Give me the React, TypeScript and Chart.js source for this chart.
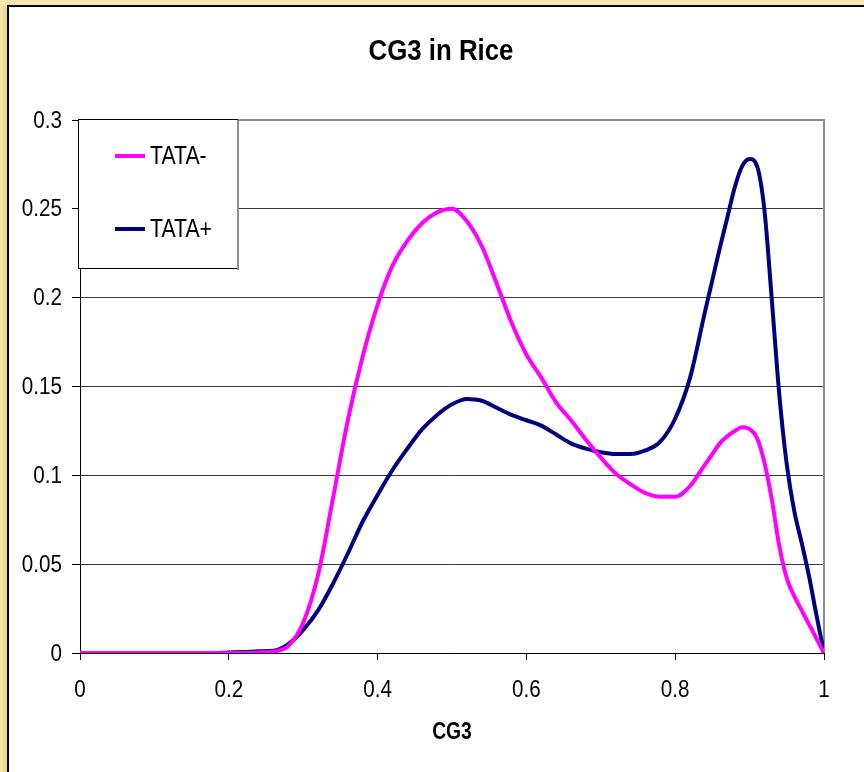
import React, { useEffect, useRef } from "react";
import { Chart, registerables } from "chart.js";

Chart.register(...registerables);

const chartTitle = "CG3 in Rice";
const xAxisTitle = "CG3";
const seriesNames = ["TATA-", "TATA+"];
const seriesColors = ["#FF00FF", "#000080"];

const xValues = [
  0, 0.02, 0.04, 0.06, 0.08, 0.1, 0.12, 0.14, 0.16, 0.18, 0.2, 0.22, 0.24, 0.26, 0.28, 0.3,
  0.32, 0.34, 0.36, 0.38, 0.4, 0.42, 0.44, 0.46, 0.48, 0.5, 0.52, 0.54, 0.56, 0.58, 0.6,
  0.62, 0.64, 0.66, 0.68, 0.7, 0.72, 0.74, 0.76, 0.78, 0.8, 0.82, 0.84, 0.85, 0.86, 0.87,
  0.88, 0.89, 0.9, 0.91, 0.92, 0.93, 0.94, 0.95, 0.96, 0.97, 0.98, 0.99, 1,
];

const tataMinus = [
  0, 0, 0, 0, 0, 0, 0, 0, 0, 0, 0, 0, 0.0003, 0.0008, 0.004, 0.017,
  0.044, 0.087, 0.131, 0.167, 0.196, 0.218, 0.232, 0.242, 0.248, 0.25, 0.243, 0.229, 0.208, 0.186, 0.168,
  0.155, 0.141, 0.131, 0.12, 0.11, 0.101, 0.095, 0.09, 0.088, 0.088, 0.094, 0.106, 0.112, 0.118, 0.122,
  0.125, 0.127, 0.126, 0.121, 0.107, 0.086, 0.06, 0.042, 0.032, 0.024, 0.016, 0.008, 0,
];

const tataPlus = [
  0, 0, 0, 0, 0, 0, 0, 0, 0, 0, 0.0003, 0.0005, 0.001, 0.0012, 0.005, 0.013,
  0.024, 0.039, 0.056, 0.074, 0.089, 0.103, 0.115, 0.126, 0.134, 0.14, 0.143, 0.142, 0.138, 0.134, 0.131,
  0.128, 0.123, 0.118, 0.115, 0.113, 0.112, 0.112, 0.114, 0.119, 0.132, 0.155, 0.192, 0.21, 0.228, 0.245,
  0.262, 0.274, 0.278, 0.274, 0.249, 0.198, 0.145, 0.106, 0.08, 0.062, 0.043, 0.021, 0,
];

const FONT = "'Liberation Sans', Arial, sans-serif";

const fmt = (v: number) => String(Math.round(v * 1000) / 1000);

function narrowText(
  ctx: CanvasRenderingContext2D,
  text: string,
  x: number,
  y: number,
  font: string,
  align: CanvasTextAlign,
  sx: number
) {
  ctx.save();
  ctx.font = font;
  ctx.fillStyle = "#000000";
  ctx.textBaseline = "middle";
  ctx.textAlign = align;
  ctx.translate(x, y);
  ctx.scale(sx, 1);
  ctx.fillText(text, 0, 0);
  ctx.restore();
}

const backgroundPlugin = {
  id: "frameBg",
  beforeDraw(chart: any) {
    const ctx = chart.ctx;
    const W = chart.width;
    const H = chart.height;
    ctx.save();
    const g = ctx.createLinearGradient(0, 0, 12, 0);
    g.addColorStop(0, "#f6e8b8");
    g.addColorStop(0.5, "#ecd48a");
    g.addColorStop(1, "#f3e0a2");
    ctx.fillStyle = g;
    ctx.fillRect(0, 0, W, H);
    ctx.fillStyle = "#f5e6b4";
    ctx.fillRect(0, 0, W, 6);
    ctx.fillStyle = "#ffffff";
    ctx.fillRect(8, 6, W - 8, H - 6);
    ctx.fillStyle = "#000000";
    ctx.fillRect(7, 5, W - 7, 2);
    ctx.fillRect(7, 5, 2, H - 5);
    ctx.restore();
  },
  beforeDatasetsDraw(chart: any) {
    const { ctx, chartArea } = chart;
    ctx.save();
    ctx.strokeStyle = "#8c8c8c";
    ctx.lineWidth = 2;
    ctx.beginPath();
    ctx.moveTo(chartArea.left, chartArea.top);
    ctx.lineTo(chartArea.right, chartArea.top);
    ctx.lineTo(chartArea.right, chartArea.bottom);
    ctx.stroke();
    ctx.restore();
  },
};

const textPlugin = {
  id: "narrowTexts",
  afterDraw(chart: any) {
    const ctx = chart.ctx;
    const xs = chart.scales.x;
    const ys = chart.scales.y;
    // title
    narrowText(ctx, chartTitle, 441, 52, `bold 29px ${FONT}`, "center", 0.89);
    // y tick labels
    ys.ticks.forEach((t: any) => {
      const py = ys.getPixelForValue(t.value);
      narrowText(ctx, fmt(t.value), 62, py + 1, `24px ${FONT}`, "right", 0.86);
    });
    // x tick labels
    xs.ticks.forEach((t: any) => {
      const px = xs.getPixelForValue(t.value);
      narrowText(ctx, fmt(t.value), px, 690, `24px ${FONT}`, "center", 0.86);
    });
    // x axis title
    const cx = (chart.chartArea.left + chart.chartArea.right) / 2;
    narrowText(ctx, xAxisTitle, cx, 733, `bold 23px ${FONT}`, "center", 0.84);

    // legend box
    const left = 78;
    const top = 119;
    const w = 159;
    const h = 149;
    ctx.save();
    ctx.fillStyle = "#ffffff";
    ctx.fillRect(left, top, w, h);
    ctx.strokeStyle = "#000000";
    ctx.lineWidth = 1;
    ctx.strokeRect(left + 0.5, top + 0.5, w, h);
    ctx.fillStyle = "#8c8c8c";
    ctx.fillRect(left + w, top + 1, 2, h + 1);
    ctx.restore();
    const rows = [156, 229];
    chart.data.datasets.forEach((ds: any, i: number) => {
      const y = rows[i];
      ctx.save();
      ctx.strokeStyle = ds.borderColor;
      ctx.lineWidth = 4;
      ctx.beginPath();
      ctx.moveTo(115, y);
      ctx.lineTo(145, y);
      ctx.stroke();
      ctx.restore();
      narrowText(ctx, ds.label, 150, y + 1, `25px ${FONT}`, "left", 0.85);
    });
  },
};

export default function App() {
  const ref = useRef<HTMLCanvasElement | null>(null);

  useEffect(() => {
    if (!ref.current) return;
    const makeData = (ys: number[]) => xValues.map((x, i) => ({ x, y: ys[i] }));
    const chart = new Chart(ref.current, {
      type: "line",
      data: {
        datasets: [
          {
            label: seriesNames[0],
            data: makeData(tataMinus),
            borderColor: seriesColors[0],
            backgroundColor: seriesColors[0],
            borderWidth: 4,
            pointRadius: 0,
            cubicInterpolationMode: "monotone",
            fill: false,
          },
          {
            label: seriesNames[1],
            data: makeData(tataPlus),
            borderColor: seriesColors[1],
            backgroundColor: seriesColors[1],
            borderWidth: 4,
            pointRadius: 0,
            cubicInterpolationMode: "monotone",
            fill: false,
          },
        ],
      },
      options: {
        responsive: false,
        animation: false,
        devicePixelRatio: 1,
        layout: { padding: { left: 18, right: 40, top: 120, bottom: 0 } },
        plugins: {
          legend: { display: false },
          tooltip: { enabled: false },
          title: { display: false },
        },
        scales: {
          x: {
            type: "linear",
            min: 0,
            max: 1,
            afterFit: (s: any) => {
              s.height = 119;
            },
            ticks: { stepSize: 0.2, display: false, maxRotation: 0 },
            grid: {
              drawOnChartArea: false,
              drawTicks: true,
              tickLength: 7,
              tickColor: "#000000",
              tickWidth: 1,
            },
            border: { display: true, color: "#000000", width: 1 },
          },
          y: {
            type: "linear",
            min: 0,
            max: 0.3,
            afterFit: (s: any) => {
              s.width = 62;
            },
            ticks: { stepSize: 0.05, display: false },
            grid: {
              color: "#3a3a3a",
              lineWidth: 1,
              drawTicks: true,
              tickLength: 8,
              tickColor: "#000000",
            },
            border: { display: true, color: "#000000", width: 1 },
          },
        },
      },
      plugins: [backgroundPlugin, textPlugin],
    });
    return () => chart.destroy();
  }, []);

  return (
    <div style={{ position: "absolute", left: 0, top: 0, width: 864, height: 772 }}>
      <canvas ref={ref} width={864} height={772} style={{ display: "block" }} />
    </div>
  );
}
